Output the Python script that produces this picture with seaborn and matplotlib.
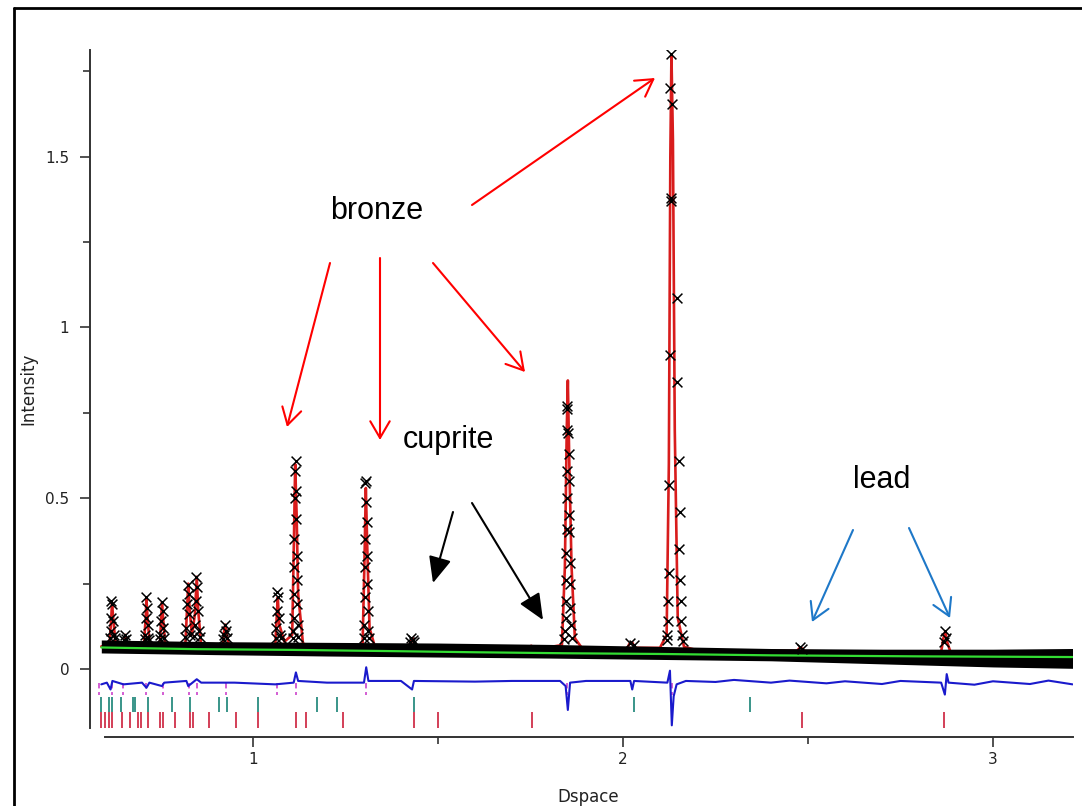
import matplotlib
matplotlib.use("Agg")
import matplotlib.pyplot as plt
import seaborn as sns
import pandas as pd
from matplotlib.lines import Line2D
from matplotlib.ticker import MultipleLocator

# ---------------- data ----------------
# calculated profile (red), vertices (d-spacing, intensity)
calc_d = [0.590, 0.612, 0.617, 0.619, 0.622, 0.628, 0.650, 0.655, 0.660, 0.705, 0.710, 0.712,
          0.715, 0.721, 0.748, 0.752, 0.754, 0.757, 0.763, 0.817, 0.822, 0.825, 0.829, 0.835,
          0.843, 0.848, 0.852, 0.860, 0.918, 0.922, 0.925, 0.929, 0.936, 1.060, 1.064, 1.067,
          1.071, 1.085, 1.106, 1.111, 1.114, 1.118, 1.122, 1.135, 1.160, 1.296, 1.301, 1.305,
          1.309, 1.315, 1.330, 1.420, 1.426, 1.432, 1.438, 1.740, 1.752, 1.765, 1.835, 1.843,
          1.848, 1.851, 1.855, 1.861, 1.870, 1.890, 2.010, 2.018, 2.025, 2.032, 2.100, 2.118,
          2.124, 2.128, 2.131, 2.135, 2.140, 2.148, 2.165, 2.200, 2.470, 2.478, 2.485, 2.490,
          2.860, 2.866, 2.871, 2.876, 2.885, 3.215]
calc_i = [0.066, 0.070, 0.150, 0.195, 0.150, 0.080, 0.070, 0.100, 0.070, 0.068, 0.150, 0.205,
          0.150, 0.070, 0.068, 0.150, 0.195, 0.150, 0.070, 0.068, 0.180, 0.250, 0.170, 0.100,
          0.160, 0.270, 0.170, 0.070, 0.065, 0.110, 0.130, 0.100, 0.066, 0.064, 0.150, 0.210,
          0.130, 0.080, 0.100, 0.400, 0.600, 0.450, 0.220, 0.075, 0.063, 0.065, 0.300, 0.530,
          0.350, 0.120, 0.063, 0.062, 0.080, 0.090, 0.062, 0.058, 0.068, 0.058, 0.070, 0.300,
          0.700, 0.845, 0.600, 0.300, 0.090, 0.060, 0.058, 0.075, 0.078, 0.062, 0.062, 0.100,
          0.600, 1.500, 1.800, 1.550, 0.700, 0.150, 0.065, 0.055, 0.053, 0.062, 0.060, 0.052,
          0.050, 0.090, 0.110, 0.080, 0.050, 0.045]

# observed points on the peaks (black crosses)
obs_d = [0.617, 0.620, 0.616, 0.622, 0.615, 0.624, 0.613, 0.626, 0.655, 0.652, 0.658,
         0.711, 0.713, 0.710, 0.715, 0.709, 0.717, 0.707, 0.719,
         0.753, 0.756, 0.751, 0.758, 0.750, 0.760, 0.748,
         0.823, 0.826, 0.821, 0.828, 0.819, 0.830, 0.817,
         0.847, 0.850, 0.845, 0.852, 0.843, 0.854, 0.856, 0.841,
         0.924, 0.927, 0.921, 0.930, 0.919,
         1.066, 1.068, 1.064, 1.070, 1.063, 1.072, 1.061, 1.075,
         1.115, 1.114, 1.116, 1.113, 1.117, 1.112, 1.118, 1.112, 1.119, 1.111, 1.120, 1.110, 1.121,
         1.109, 1.123, 1.107,
         1.305, 1.304, 1.306, 1.307, 1.303, 1.308, 1.303, 1.309, 1.302, 1.310, 1.301, 1.312,
         1.299, 1.314,
         1.428, 1.433, 1.425, 1.436,
         1.850, 1.849, 1.850, 1.852, 1.853, 1.848, 1.853, 1.849, 1.854, 1.848, 1.855, 1.847,
         1.856, 1.846, 1.857, 1.846, 1.858, 1.845, 1.860, 1.844, 1.863, 1.841,
         2.020, 2.030,
         2.131, 2.128, 2.133, 2.130, 2.129, 2.145, 2.126, 2.146, 2.151, 2.124, 2.154, 2.152,
         2.125, 2.154, 2.123, 2.156, 2.121, 2.158, 2.120, 2.160, 2.118, 2.163,
         2.478, 2.484,
         2.871, 2.874, 2.869]
obs_i = [0.200, 0.190, 0.150, 0.140, 0.110, 0.100, 0.090, 0.090, 0.100, 0.085, 0.088,
         0.210, 0.180, 0.150, 0.130, 0.100, 0.090, 0.088, 0.085,
         0.195, 0.170, 0.140, 0.120, 0.100, 0.090, 0.088,
         0.245, 0.220, 0.190, 0.160, 0.120, 0.100, 0.095,
         0.270, 0.240, 0.200, 0.170, 0.130, 0.110, 0.095, 0.098,
         0.130, 0.110, 0.100, 0.090, 0.088,
         0.225, 0.210, 0.170, 0.150, 0.120, 0.100, 0.092, 0.090,
         0.610, 0.580, 0.520, 0.500, 0.440, 0.380, 0.330, 0.300, 0.260, 0.220, 0.190, 0.150, 0.130,
         0.110, 0.095, 0.092,
         0.550, 0.545, 0.490, 0.430, 0.380, 0.330, 0.300, 0.250, 0.210, 0.170, 0.130, 0.110,
         0.092, 0.090,
         0.090, 0.085, 0.080, 0.078,
         0.770, 0.760, 0.700, 0.690, 0.630, 0.580, 0.550, 0.500, 0.450, 0.410, 0.400, 0.340,
         0.310, 0.260, 0.250, 0.200, 0.180, 0.150, 0.130, 0.110, 0.090, 0.088,
         0.075, 0.070,
         1.800, 1.700, 1.655, 1.380, 1.370, 1.085, 0.920, 0.840, 0.610, 0.540, 0.460, 0.350,
         0.280, 0.260, 0.200, 0.200, 0.140, 0.140, 0.100, 0.100, 0.085, 0.082,
         0.065, 0.060,
         0.110, 0.090, 0.080]

# dense observed background band (envelope)
band_d = [0.590, 0.900, 1.200, 1.500, 1.800, 2.100, 2.400, 2.700, 3.000, 3.215]
band_lo = [0.047, 0.042, 0.038, 0.035, 0.032, 0.028, 0.024, 0.015, 0.006, 0.002]
band_hi = [0.085, 0.080, 0.078, 0.076, 0.072, 0.066, 0.060, 0.058, 0.058, 0.060]

# background (green)
bg_d = [0.590, 0.850, 1.100, 1.400, 1.600, 1.850, 2.100, 2.400, 2.800, 3.215]
bg_i = [0.063, 0.058, 0.056, 0.052, 0.049, 0.046, 0.044, 0.040, 0.037, 0.035]

# difference curve (blue)
diff_d = [0.590, 0.605, 0.615, 0.620, 0.650, 0.700, 0.712, 0.720, 0.754, 0.760, 0.820, 0.825,
          0.848, 0.860, 0.950, 1.060, 1.110, 1.116, 1.122, 1.200, 1.300, 1.306, 1.312, 1.400,
          1.430, 1.435, 1.600, 1.700, 1.830, 1.845, 1.851, 1.857, 1.900, 2.020, 2.025, 2.030,
          2.120, 2.127, 2.132, 2.137, 2.145, 2.170, 2.250, 2.300, 2.400, 2.450, 2.550, 2.600,
          2.700, 2.750, 2.860, 2.870, 2.875, 2.880, 2.950, 3.000, 3.100, 3.150, 3.215]
diff_i = [-0.045, -0.040, -0.060, -0.035, -0.045, -0.040, -0.055, -0.040, -0.050, -0.040,
          -0.035, -0.050, -0.030, -0.040, -0.040, -0.045, -0.040, -0.010, -0.035, -0.040,
          -0.040, 0.005, -0.035, -0.035, -0.060, -0.035, -0.037, -0.035, -0.035, -0.050,
          -0.120, -0.040, -0.035, -0.035, -0.060, -0.035, -0.040, -0.005, -0.165, -0.080,
          -0.045, -0.035, -0.038, -0.032, -0.040, -0.034, -0.042, -0.036, -0.044, -0.035,
          -0.040, -0.075, -0.015, -0.040, -0.046, -0.036, -0.044, -0.034, -0.045]

# reflection tick marks of the three phases
ticks_bronze = [0.585, 0.619, 0.650, 0.712, 0.757, 0.827, 0.848, 0.926, 1.064, 1.115, 1.306,
                1.848, 2.132]
ticks_cuprite = [0.588, 0.610, 0.619, 0.642, 0.676, 0.682, 0.716, 0.781, 0.830, 0.909, 0.929,
                 1.014, 1.174, 1.226, 1.435, 2.031, 2.342]
ticks_lead = [0.588, 0.601, 0.610, 0.619, 0.646, 0.667, 0.688, 0.698, 0.716, 0.749, 0.758,
              0.790, 0.830, 0.839, 0.881, 0.954, 1.014, 1.115, 1.142, 1.243, 1.435, 1.499,
              1.755, 2.485, 2.868]

x_major = [1, 2, 3]
y_major = [0, 0.5, 1, 1.5]
y_labels = ["0", "0.5", "1", "1.5"]

# ---------------- figure ----------------
sns.set_style("ticks")
plt.rcParams['font.family'] = ['DejaVu Sans']

W, H = 1082, 806
fig = plt.figure(figsize=(W / 100, H / 100), dpi=100)
PXL, PXR, PYT, PYB = 97.6, 1072.5, 50, 728
ax = fig.add_axes([PXL / W, 1 - PYB / H, (PXR - PXL) / W, (PYB - PYT) / H])
XLIM = (0.58, 3.215)
YLIM = (-0.1728, 1.8126)


def to_data(px, py):
    d = XLIM[0] + (px - PXL) / (PXR - PXL) * (XLIM[1] - XLIM[0])
    v = YLIM[1] - (py - PYT) / (PYB - PYT) * (YLIM[1] - YLIM[0])
    return d, v


calc_df = pd.DataFrame({"d": calc_d, "I": calc_i})
obs_df = pd.DataFrame({"d": obs_d, "I": obs_i})
bg_df = pd.DataFrame({"d": bg_d, "I": bg_i})
diff_df = pd.DataFrame({"d": diff_d, "I": diff_i})

sns.lineplot(data=calc_df, x="d", y="I", ax=ax, color="#d81c1c", lw=1.9,
             estimator=None, sort=False, zorder=2.5)
ax.fill_between(band_d, band_lo, band_hi, color="black", lw=0, zorder=3)
sns.lineplot(data=bg_df, x="d", y="I", ax=ax, color="#33dd33", lw=1.6,
             estimator=None, sort=False, zorder=3.5)
sns.scatterplot(data=obs_df, x="d", y="I", ax=ax, marker="x", color="black",
                s=50, linewidth=1.1, zorder=4)
sns.lineplot(data=diff_df, x="d", y="I", ax=ax, color="#1a1acc", lw=1.5,
             estimator=None, sort=False, zorder=4)

ax.vlines(ticks_bronze, -0.040, -0.075, colors="#d050d0", lw=1.3,
          linestyles=(0, (3, 2)), zorder=3)
ax.vlines(ticks_cuprite, -0.082, -0.125, colors="#2a8c80", lw=1.3, zorder=3)
ax.vlines(ticks_lead, -0.127, -0.172, colors="#d0304a", lw=1.3, zorder=3)

ax.set_xlim(*XLIM)
ax.set_ylim(*YLIM)

# axes styling
for s in ["top", "right"]:
    ax.spines[s].set_visible(False)
ax.spines["left"].set_position(("outward", 5.5))
ax.spines["bottom"].set_position(("outward", 6.5))
ax.spines["bottom"].set_bounds(0.60, 3.215)
for s in ["left", "bottom"]:
    ax.spines[s].set_color("#333333")
    ax.spines[s].set_linewidth(1.4)

ax.set_xticks(x_major)
ax.set_xticklabels([str(v) for v in x_major])
ax.xaxis.set_minor_locator(MultipleLocator(0.5))
ax.set_yticks(y_major)
ax.set_yticklabels(y_labels)
ax.yaxis.set_minor_locator(MultipleLocator(0.25))
ax.tick_params(axis="both", which="major", length=7, width=1.2, color="#333333",
               labelsize=11, labelcolor="#222222", pad=4)
ax.tick_params(axis="y", which="major", pad=8)
ax.tick_params(axis="both", which="minor", length=5, width=1.2, color="#333333")

ax.set_xlabel("Dspace", fontsize=12, color="#222222")
ax.set_ylabel("Intensity", fontsize=12, color="#222222")
ax.xaxis.set_label_coords(0.503, -0.088)
ax.yaxis.set_label_coords(-0.062, 0.5)

# ---------------- annotations ----------------
txt_kw = dict(fontsize=22, family=["Liberation Sans", "DejaVu Sans"], color="black",
              ha="center", va="center", zorder=6)
ax.text(*to_data(377, 211), "bronze", **txt_kw)
ax.text(*to_data(448, 440), "cuprite", **txt_kw)
ax.text(*to_data(882, 480), "lead", **txt_kw)


def arrow(p0, p1, color, style):
    ax.annotate("", xy=to_data(*p1), xytext=to_data(*p0),
                arrowprops=dict(arrowstyle=style, color=color, lw=1.5,
                                shrinkA=0, shrinkB=0, mutation_scale=20),
                annotation_clip=False, zorder=6)


open_head = "->,head_length=0.6,head_width=0.35"
filled_head = "-|>,head_length=0.8,head_width=0.35"
arrow((330, 263), (287, 427), "#ff0000", open_head)
arrow((380, 258), (380, 440), "#ff0000", open_head)
arrow((433, 263), (525, 372), "#ff0000", open_head)
arrow((472, 205), (655, 78), "#ff0000", open_head)
arrow((453, 512), (433, 583), "black", filled_head)
arrow((472, 503), (543, 620), "black", filled_head)
arrow((853, 530), (812, 622), "#1e78c8", open_head)
arrow((909, 528), (950, 618), "#1e78c8", open_head)

# outer frame of the picture
fig.add_artist(Line2D([14 / W, 14 / W], [0, 1 - 8 / H], color="black", lw=2,
                      transform=fig.transFigure))
fig.add_artist(Line2D([14 / W, 1], [1 - 8 / H, 1 - 8 / H], color="black", lw=2,
                      transform=fig.transFigure))

fig.savefig("out.png", dpi=100)
